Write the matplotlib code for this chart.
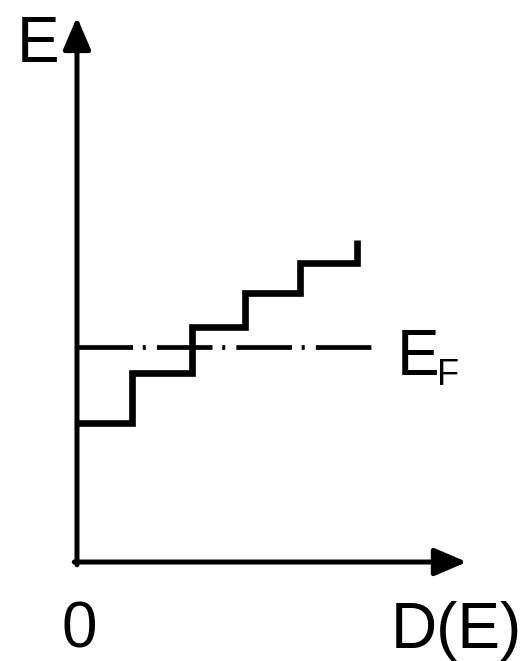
import matplotlib
matplotlib.use('Agg')
import matplotlib.pyplot as plt

# Data: staircase density of states (arbitrary units)
dos_edges = [0.0, 1.0, 2.09, 3.05, 4.05, 5.09]   # D(E) at each step
energy_levels = [2.53, 3.44, 4.27, 4.89, 5.44]   # E of each flat step
energy_top = 5.85
fermi_level = 3.91
fermi_end = 5.42
x_axis_end = 7.09
y_axis_end = 9.91

plt.rcParams['font.family'] = ['Liberation Sans', 'DejaVu Sans']
plt.rcParams['lines.scale_dashes'] = False

fig = plt.figure(figsize=(5.29, 6.61), dpi=100)
ax = fig.add_axes([0, 0, 1, 1])
ax.set_xlim(-1.4, 8.22)
ax.set_ylim(-1.8, 10.22)
ax.axis('off')

# build the staircase path
xs, ys = [], []
for i, e in enumerate(energy_levels):
    xs += [dos_edges[i], dos_edges[i + 1]]
    ys += [e, e]
xs.append(dos_edges[-1])
ys.append(energy_top)
ax.plot(xs, ys, color='black', lw=4.8, solid_joinstyle='miter', solid_capstyle='butt')

# Fermi level, dash-dot
ax.plot([0, fermi_end], [fermi_level, fermi_level], color='black', lw=3.4,
        dashes=[40, 7, 2.2, 8], dash_capstyle='butt')

# axes with arrows
arrow = dict(arrowstyle='-|>,head_length=0.7,head_width=0.3', color='black', lw=3.6,
             mutation_scale=28, shrinkA=0, shrinkB=0)
ax.annotate('', xy=(x_axis_end, 0), xytext=(-0.05, 0), arrowprops=arrow)
ax.annotate('', xy=(0, y_axis_end), xytext=(0, -0.05), arrowprops=arrow)

# labels
fs = 46
ax.text(-0.71, 9.09, 'E', fontsize=fs, ha='center', va='baseline')
ax.text(5.82, 3.4, 'E', fontsize=fs, ha='left', va='baseline')
ax.text(6.55, 3.22, 'F', fontsize=26, ha='left', va='baseline')
ax.text(0.05, -1.56, '0', fontsize=fs, ha='center', va='baseline')
ax.text(8.09, -1.56, 'D(E)', fontsize=fs, ha='right', va='baseline')

fig.savefig('out.png', dpi=100)
